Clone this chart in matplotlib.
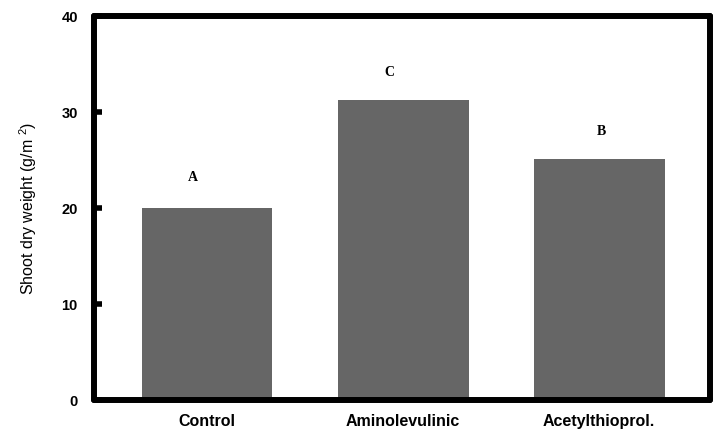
import numpy as np
import matplotlib
matplotlib.use("Agg")
import matplotlib.pyplot as plt

# data
treatments = ["Control", "Aminolevulinic", "Acetylthioprol."]
shoot_dry_weight = [20.1, 31.3, 25.2]
groups = ["A", "C", "B"]
letter_height = [23.2, 34.2, 28.0]
letter_shift = [-0.07, -0.07, 0.01]

plt.rcParams["font.family"] = ["Liberation Sans", "DejaVu Sans"]
plt.rcParams["mathtext.default"] = "regular"

fig = plt.figure(figsize=(7.19, 4.34), dpi=100)
ax = fig.add_axes([0.1314, 0.0772, 0.8561, 0.8848])

x = np.arange(len(treatments))
ax.bar(x, shoot_dry_weight, width=0.668, color="#666666", zorder=2)

for xi, lh, dx, g in zip(x, letter_height, letter_shift, groups):
    ax.text(xi + dx, lh, g, ha="center", va="center", fontsize=10,
            fontweight="bold", family=["Liberation Serif", "DejaVu Serif"])

ax.set_xlim(-0.574, 2.566)
ax.set_ylim(0, 40)
ax.set_yticks([0, 10, 20, 30, 40])
ax.set_xticks(x)
ax.set_xticklabels(treatments, fontsize=11.5, fontweight="bold")
for lab in ax.get_yticklabels():
    lab.set_fontweight("bold")
    lab.set_fontsize(10.5)

ax.tick_params(axis="y", direction="in", length=6, width=4, pad=12)
ax.tick_params(axis="x", length=0, pad=10)

for sp in ax.spines.values():
    sp.set_linewidth(4.3)
    sp.set_color("black")
    sp.set_capstyle("round")

ax.set_ylabel("Shoot dry weight (g/m $^{2}$)", fontsize=11.5, labelpad=16)

fig.savefig("out.png", dpi=100)
